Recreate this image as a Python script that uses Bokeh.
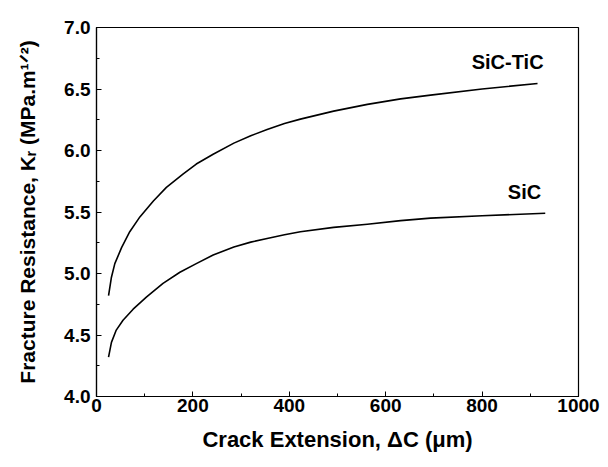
from bokeh.plotting import figure
from bokeh.embed import file_html
from bokeh.resources import INLINE
from bokeh.models import Range1d, FixedTicker, Label, CustomJSTickFormatter

# Data
sic_tic_x = [25, 31, 38, 52, 69, 90, 118, 145, 180, 207, 242, 285, 320, 354, 390, 423, 492, 562, 631, 693, 800, 915]
sic_tic_y = [4.82, 4.97, 5.08, 5.21, 5.34, 5.46, 5.59, 5.70, 5.81, 5.89, 5.97, 6.06, 6.12, 6.17, 6.22, 6.255, 6.32, 6.375, 6.42, 6.45, 6.50, 6.545]
sic_x = [25, 31, 41, 55, 76, 104, 138, 173, 207, 242, 285, 320, 354, 390, 423, 492, 562, 631, 693, 800, 931]
sic_y = [4.32, 4.44, 4.54, 4.62, 4.71, 4.81, 4.92, 5.01, 5.08, 5.15, 5.215, 5.255, 5.285, 5.315, 5.34, 5.375, 5.40, 5.43, 5.45, 5.47, 5.49]
x_ticks = [0, 200, 400, 600, 800, 1000]
y_ticks = [4.0, 4.5, 5.0, 5.5, 6.0, 6.5, 7.0]
series_labels = ["SiC-TiC", "SiC"]

FONT = "Liberation Sans"

p = figure(width=608, height=467, output_backend="svg", toolbar_location=None,
           x_range=Range1d(0, 1000), y_range=Range1d(4.0, 7.0),
           min_border_left=96, min_border_right=30, min_border_top=27, min_border_bottom=71)
p.background_fill_color = "white"
p.border_fill_color = "white"
p.outline_line_color = "black"
p.outline_line_width = 1.2
p.grid.visible = False

p.line(sic_tic_x, sic_tic_y, line_color="black", line_width=1.6, line_join="round")
p.line(sic_x, sic_y, line_color="black", line_width=1.6, line_join="round")

p.add_layout(Label(x=853, y=6.72, text=series_labels[0], text_align="center", text_baseline="middle",
                   text_font=FONT, text_font_style="bold", text_font_size="20px", text_color="black"))
p.add_layout(Label(x=888, y=5.66, text=series_labels[1], text_align="center", text_baseline="middle",
                   text_font=FONT, text_font_style="bold", text_font_size="20px", text_color="black"))

xa = p.xaxis[0]
xa.ticker = FixedTicker(ticks=x_ticks, minor_ticks=list(range(0, 1001, 100)))
xa.axis_label = "Crack Extension, \u0394C (\u03bcm)"
ya = p.yaxis[0]
ya.ticker = FixedTicker(ticks=y_ticks, minor_ticks=[4 + 0.25 * i for i in range(13)])
ya.axis_label = "Fracture Resistance, K\u1d63 (MPa.m\u00b9\u141f\u00b2)"
ya.formatter = CustomJSTickFormatter(code="return tick.toFixed(1);")

for ax in (xa, ya):
    ax.axis_line_color = "black"
    ax.axis_line_width = 1.2
    ax.major_tick_in = 5
    ax.major_tick_out = 0
    ax.minor_tick_in = 3
    ax.minor_tick_out = 0
    ax.major_tick_line_color = "black"
    ax.minor_tick_line_color = "black"
    ax.major_label_text_font = FONT
    ax.major_label_text_font_style = "bold"
    ax.major_label_text_font_size = "19px"
    ax.major_label_text_color = "black"
    ax.axis_label_text_font = FONT
    ax.axis_label_text_font_style = "bold"
    ax.axis_label_text_color = "black"

xa.axis_label_text_font_size = "22px"
ya.axis_label_text_font_size = "21px"
xa.major_label_standoff = 2
xa.axis_label_standoff = 12
ya.major_label_standoff = 6
ya.axis_label_standoff = 22

open("out.html", "w").write(file_html(p, INLINE))
